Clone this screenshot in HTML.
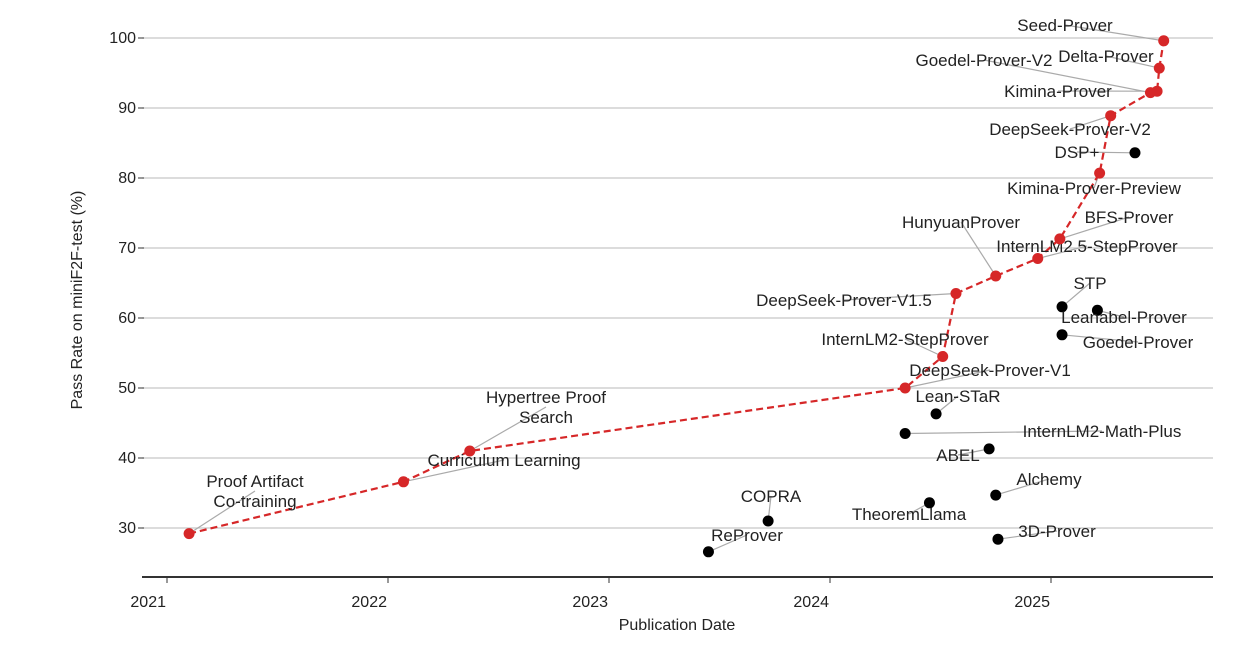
<!DOCTYPE html>
<html><head><meta charset="utf-8"><style>
html,body{margin:0;padding:0;background:#fff;}
svg text{font-family:"Liberation Sans","DejaVu Sans",sans-serif;fill:#222;}
</style></head><body>
<svg id="c" width="1246" height="646" xmlns="http://www.w3.org/2000/svg"></svg>
<script>
const redNames=["Proof Artifact\nCo-training","Curriculum Learning","Hypertree Proof\nSearch","DeepSeek-Prover-V1","InternLM2-StepProver","DeepSeek-Prover-V1.5","HunyuanProver","InternLM2.5-StepProver","BFS-Prover","Kimina-Prover-Preview","DeepSeek-Prover-V2","Goedel-Prover-V2","Kimina-Prover","Delta-Prover","Seed-Prover"];
const redDates=[2021.10,2022.07,2022.37,2024.34,2024.51,2024.57,2024.75,2024.94,2025.04,2025.22,2025.27,2025.45,2025.48,2025.49,2025.51];
const redScores=[29.2,36.6,41.0,50.0,54.5,63.5,66.0,68.5,71.3,80.7,88.9,92.2,92.4,95.7,99.6];
const blackNames=["DSP+","STP","Leanabel-Prover","Goedel-Prover","Lean-STaR","InternLM2-Math-Plus","ABEL","Alchemy","TheoremLlama","3D-Prover","COPRA","ReProver"];
const blackDates=[2025.38,2025.05,2025.21,2025.05,2024.48,2024.34,2024.72,2024.75,2024.45,2024.76,2023.72,2023.45];
const blackScores=[83.6,61.6,61.1,57.6,46.3,43.5,41.3,34.7,33.6,28.4,31.0,26.6];
const yTicks=[30,40,50,60,70,80,90,100];
const xTicks=[2021,2022,2023,2024,2025];
// label layout (pixel anchor of text centre), not data
const redLabelPos=[[255,491],[504,460],[546,407],[990,370],[905,339],[844,300],[961,222],[1087,246],[1129,217],[1094,188],[1070,129],[984,60],[1058,91],[1106,56],[1065,25]];
const blackLabelPos=[[1077,152],[1090,283],[1124,317],[1138,342],[958,396],[1102,431],[958,455],[1049,479],[909,514],[1057,531],[771,496],[747,535]];

const NS="http://www.w3.org/2000/svg";
const svg=document.getElementById('c');
const X=d=>167+221*(d-2021);
const Y=v=>388-7*(v-50);
function el(t,a,p){const e=document.createElementNS(NS,t);for(const k in a)e.setAttribute(k,a[k]);(p||svg).appendChild(e);return e;}

yTicks.forEach(v=>{
  const g=el('line',{x1:142,x2:1213,y1:Y(v),y2:Y(v),stroke:'#c8c8c8','stroke-width':1.3});
  
  
  el('line',{x1:138,x2:144,y1:Y(v),y2:Y(v),stroke:'#333','stroke-width':1});
  const t=el('text',{x:136,y:Y(v)+5,'text-anchor':'end','font-size':16});
  t.textContent=v;
  
  
});
const ax=el('line',{x1:142,x2:1213,y1:577,y2:577,stroke:'#333','stroke-width':2});


xTicks.forEach(yr=>{
  el('line',{x1:X(yr),x2:X(yr),y1:577,y2:583,stroke:'#333','stroke-width':1});
  const t=el('text',{x:X(yr)-1,y:607,'text-anchor':'end','font-size':16});
  t.textContent=yr;
  
  
});
const xl=el('text',{x:677,y:630,'text-anchor':'middle','font-size':16});
xl.textContent='Publication Date';


const yl=el('text',{x:0,y:0,'text-anchor':'middle','font-size':16,transform:'translate(82,300) rotate(-90)'});
yl.textContent='Pass Rate on miniF2F-test (%)';



function arrow(lx,ly,px,py){
  const l=el('line',{x1:lx,y1:ly,x2:px,y2:py,stroke:'#aaa','stroke-width':1.2});
  
  
}
function label(txt,cx,cy){
  const lines=txt.split('\n');
  lines.forEach((s,i)=>{
    const t=el('text',{x:cx,y:cy+6+(i-(lines.length-1)/2)*20,'text-anchor':'middle','font-size':17});
    t.textContent=s;
    
    
  });
}
redNames.forEach((n,i)=>arrow(redLabelPos[i][0],redLabelPos[i][1],X(redDates[i]),Y(redScores[i])));
blackNames.forEach((n,i)=>arrow(blackLabelPos[i][0],blackLabelPos[i][1],X(blackDates[i]),Y(blackScores[i])));

const pts=redDates.map((d,i)=>X(d)+','+Y(redScores[i])).join(' ');
const pl=el('polyline',{points:pts,fill:'none',stroke:'#d62728','stroke-width':2.2,'stroke-dasharray':'7,4'});



redNames.forEach((n,i)=>{
  const c=el('circle',{cx:X(redDates[i]),cy:Y(redScores[i]),r:5.5,fill:'#d62728'});
  
  
  label(n,redLabelPos[i][0],redLabelPos[i][1]);
});
blackNames.forEach((n,i)=>{
  const c=el('circle',{cx:X(blackDates[i]),cy:Y(blackScores[i]),r:5.5,fill:'#000'});
  
  
  label(n,blackLabelPos[i][0],blackLabelPos[i][1]);
});
</script>
</body></html>
